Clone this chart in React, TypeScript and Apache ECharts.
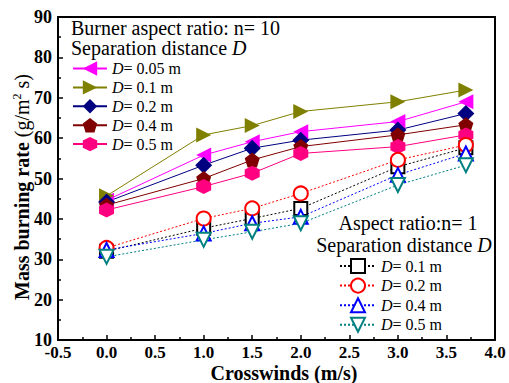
import React, { useEffect, useRef } from 'react';
import * as echarts from 'echarts';

const crosswinds = [0, 1, 1.5, 2, 3, 3.7];

// Burner aspect ratio n = 10
const n10_D005 = [44.6, 55.8, 59.1, 61.6, 64.1, 69.0];
const n10_D01 = [45.7, 60.8, 63.1, 66.6, 69.0, 71.9];
const n10_D02 = [44.2, 53.3, 57.5, 59.5, 62.0, 66.1];
const n10_D04 = [43.4, 50.0, 54.6, 57.9, 60.8, 63.3];
const n10_D05 = [42.2, 48.0, 51.3, 56.2, 57.9, 60.8];

// Aspect ratio n = 1
const n1_D01 = [32.0, 37.7, 40.1, 42.6, 52.9, 57.6];
const n1_D02 = [32.8, 40.1, 42.6, 46.3, 54.6, 58.3];
const n1_D04 = [32.3, 36.4, 38.9, 40.5, 50.9, 56.2];
const n1_D05 = [30.6, 34.8, 36.8, 38.9, 48.4, 53.3];

const upperNames = ['a005', 'a01', 'a02', 'a04', 'a05'];
const upperLabels = ['0.05', '0.1', '0.2', '0.4', '0.5'];
const lowerNames = ['b01', 'b02', 'b04', 'b05'];
const lowerLabels = ['0.1', '0.2', '0.4', '0.5'];

const FONT = '"Liberation Serif", "Times New Roman", serif';

const PENTAGON = 'path://M0,-1 L0.951,-0.309 L0.588,0.809 L-0.588,0.809 L-0.951,-0.309 Z';
const HEXAGON = 'path://M0,-1 L0.866,-0.5 L0.866,0.5 L0,1 L-0.866,0.5 L-0.866,-0.5 Z';

const pairs = (ys: number[]) => crosswinds.map((x, i) => [x, ys[i]]);

export default function App() {
  const ref = useRef<HTMLDivElement>(null);
  useEffect(() => {
    if (!ref.current) return;
    const chart = echarts.init(ref.current, undefined, { renderer: 'svg' });

    const upperDefs = [
      { data: n10_D005, color: '#FF00FF', symbol: 'triangle', rotate: 90, size: 15 },
      { data: n10_D01, color: '#808000', symbol: 'triangle', rotate: -90, size: 15 },
      { data: n10_D02, color: '#000080', symbol: 'diamond', rotate: 0, size: 17 },
      { data: n10_D04, color: '#800000', symbol: PENTAGON, rotate: 0, size: 15 },
      { data: n10_D05, color: '#FF0080', symbol: HEXAGON, rotate: 0, size: 15 },
    ];
    const lowerDefs = [
      { data: n1_D01, color: '#000000', symbol: 'emptyRect', rotate: 0, size: 13 },
      { data: n1_D02, color: '#FF0000', symbol: 'emptyCircle', rotate: 0, size: 14 },
      { data: n1_D04, color: '#0000FF', symbol: 'emptyTriangle', rotate: 0, size: 14 },
      { data: n1_D05, color: '#008080', symbol: 'emptyTriangle', rotate: 180, size: 14 },
    ];

    const series: any[] = [];
    upperDefs.forEach((d, i) => {
      series.push({
        type: 'line',
        name: upperNames[i],
        data: pairs(d.data),
        symbol: d.symbol,
        symbolSize: d.size,
        symbolRotate: d.rotate,
        itemStyle: { color: d.color },
        lineStyle: { color: d.color, width: 1 },
      });
    });
    lowerDefs.forEach((d, i) => {
      series.push({
        type: 'line',
        name: lowerNames[i],
        data: pairs(d.data),
        symbol: d.symbol,
        symbolSize: d.size,
        symbolRotate: d.rotate,
        itemStyle: { color: d.color, borderWidth: 1 },
        lineStyle: { color: d.color, width: 1, type: [2, 2] },
      });
    });

    const labelMap: Record<string, string> = {};
    upperNames.forEach((n, i) => (labelMap[n] = `{i|D}= ${upperLabels[i]} m`));
    lowerNames.forEach((n, i) => (labelMap[n] = `{i|D}= ${lowerLabels[i]} m`));

    const legendText = {
      fontFamily: FONT,
      fontSize: 16,
      color: '#000',
      rich: { i: { fontFamily: FONT, fontSize: 16, fontStyle: 'italic', color: '#000' } },
    };

    const axisLineStyle = { show: true, onZero: false, lineStyle: { color: '#000', width: 2 } };

    const option: any = {
      animation: false,
      backgroundColor: '#fff',
      grid: { left: 58, right: 14, top: 17, bottom: 43 },
      xAxis: [
        {
          type: 'value',
          min: -0.5,
          max: 4,
          interval: 0.5,
          axisLine: axisLineStyle,
          splitLine: { show: false },
          axisTick: { show: true, inside: true, length: 5, lineStyle: { color: '#000', width: 1.5 } },
          minorTick: { show: true, splitNumber: 2, length: 3, lineStyle: { color: '#000', width: 1.5 } },
          axisLabel: {
            formatter: (v: number) => v.toFixed(1),
            fontFamily: FONT,
            fontWeight: 'bold',
            fontSize: 17,
            color: '#000',
            margin: 4,
          },
        },
        {
          type: 'value',
          position: 'top',
          min: -0.5,
          max: 4,
          interval: 0.5,
          axisLine: axisLineStyle,
          splitLine: { show: false },
          axisTick: { show: false },
          axisLabel: { show: false },
        },
      ],
      yAxis: [
        {
          type: 'value',
          min: 10,
          max: 90,
          interval: 10,
          axisLine: axisLineStyle,
          splitLine: { show: false },
          axisTick: { show: true, inside: true, length: 5, lineStyle: { color: '#000', width: 1.5 } },
          minorTick: { show: true, splitNumber: 2, length: 3, lineStyle: { color: '#000', width: 1.5 } },
          axisLabel: {
            fontFamily: FONT,
            fontWeight: 'bold',
            fontSize: 18,
            color: '#000',
            margin: 6,
          },
        },
        {
          type: 'value',
          position: 'right',
          min: 10,
          max: 90,
          interval: 10,
          axisLine: axisLineStyle,
          splitLine: { show: false },
          axisTick: { show: false },
          axisLabel: { show: false },
        },
      ],
      legend: [
        {
          data: upperNames,
          orient: 'vertical',
          left: 72,
          top: 60.5,
          padding: 0,
          itemWidth: 34,
          itemHeight: 18,
          itemGap: 2.9,
          selectedMode: false,
          formatter: (n: string) => labelMap[n],
          textStyle: legendText,
        },
        {
          data: lowerNames,
          orient: 'vertical',
          left: 339,
          top: 258,
          padding: 0,
          itemWidth: 36,
          itemHeight: 17.5,
          itemGap: 3.6,
          selectedMode: false,
          formatter: (n: string) => labelMap[n],
          textStyle: legendText,
        },
      ],
      graphic: [
        {
          type: 'text',
          x: 71,
          y: 28,
          style: {
            text: 'Burner aspect ratio: n= 10',
            fontFamily: FONT,
            fontSize: 20,
            fill: '#000',
            align: 'left',
            verticalAlign: 'middle',
            textAlign: 'left',
            textVerticalAlign: 'middle',
          },
        },
        {
          type: 'text',
          x: 71,
          y: 48,
          style: {
            text: 'Separation distance {i|D}',
            fontFamily: FONT,
            fontSize: 20,
            fill: '#000',
            align: 'left',
            verticalAlign: 'middle',
            textAlign: 'left',
            textVerticalAlign: 'middle',
            rich: { i: { fontFamily: FONT, fontSize: 20, fontStyle: 'italic', fill: '#000' } },
          },
        },
        {
          type: 'text',
          x: 408,
          y: 223,
          style: {
            text: 'Aspect ratio:n= 1',
            fontFamily: FONT,
            fontSize: 20,
            fill: '#000',
            align: 'center',
            verticalAlign: 'middle',
            textAlign: 'center',
            textVerticalAlign: 'middle',
          },
        },
        {
          type: 'text',
          x: 404,
          y: 245,
          style: {
            text: 'Separation distance {i|D}',
            fontFamily: FONT,
            fontSize: 20,
            fill: '#000',
            align: 'center',
            verticalAlign: 'middle',
            textAlign: 'center',
            textVerticalAlign: 'middle',
            rich: { i: { fontFamily: FONT, fontSize: 20, fontStyle: 'italic', fill: '#000' } },
          },
        },
        {
          type: 'text',
          x: 284,
          y: 372.5,
          style: {
            text: 'Crosswinds (m/s)',
            fontFamily: FONT,
            fontSize: 20,
            fontWeight: 'bold',
            fill: '#000',
            align: 'center',
            verticalAlign: 'middle',
            textAlign: 'center',
            textVerticalAlign: 'middle',
          },
        },
        {
          type: 'text',
          x: 22,
          y: 187,
          rotation: Math.PI / 2,
          style: {
            text: '{b|Mass burning rate} {n|(g/m}{s|2}{n| s)}',
            fontFamily: FONT,
            fontSize: 20,
            fill: '#000',
            align: 'center',
            verticalAlign: 'middle',
            textAlign: 'center',
            textVerticalAlign: 'middle',
            rich: {
              b: { fontFamily: FONT, fontSize: 20, fontWeight: 'bold', fill: '#000', lineHeight: 22 },
              n: { fontFamily: FONT, fontSize: 20, fill: '#000', lineHeight: 22 },
              s: { fontFamily: FONT, fontSize: 12, fill: '#000', lineHeight: 12, verticalAlign: 'top' },
            },
          },
        },
      ],
      series,
    };

    chart.setOption(option);
    return () => chart.dispose();
  }, []);

  return (
    <div
      ref={ref}
      style={{ position: 'fixed', left: 0, top: 0, width: 509, height: 383, background: '#fff' }}
    />
  );
}
